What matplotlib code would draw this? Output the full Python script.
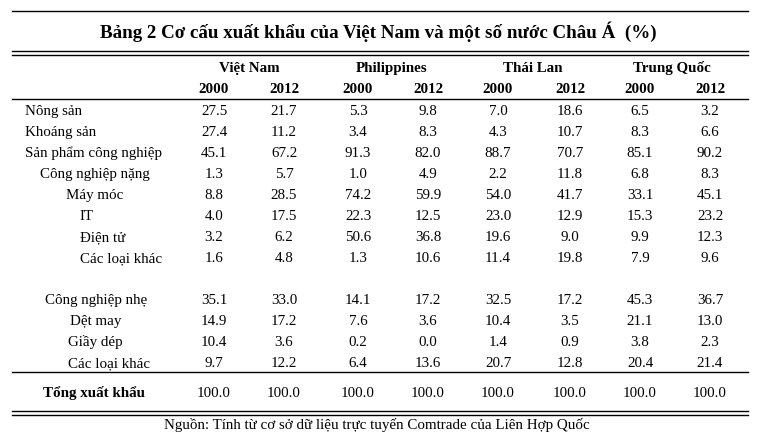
import matplotlib.pyplot as plt

plt.rcParams['font.family'] = ['Liberation Serif', 'DejaVu Serif']

title = "Bảng 2 Cơ cấu xuất khẩu của Việt Nam và một số nước Châu Á  (%)"
countries = ["Việt Nam", "Philippines", "Thái Lan", "Trung Quốc"]
years = ["2000", "2012"]
row_labels = ["Nông sản", "Khoáng sản", "Sản phẩm công nghiệp", "Công nghiệp nặng",
              "Máy móc", "IT", "Điện tử", "Các loại khác", "",
              "Công nghiệp nhẹ", "Dệt may", "Giầy dép", "Các loại khác"]
row_indent = [25, 25, 25, 40, 66, 80, 80, 80, 0, 45, 70, 68, 68]

vietnam = [(27.5, 21.7), (27.4, 11.2), (45.1, 67.2), (1.3, 5.7), (8.8, 28.5), (4.0, 17.5),
           (3.2, 6.2), (1.6, 4.8), None, (35.1, 33.0), (14.9, 17.2), (10.4, 3.6), (9.7, 12.2)]
philippines = [(5.3, 9.8), (3.4, 8.3), (91.3, 82.0), (1.0, 4.9), (74.2, 59.9), (22.3, 12.5),
               (50.6, 36.8), (1.3, 10.6), None, (14.1, 17.2), (7.6, 3.6), (0.2, 0.0), (6.4, 13.6)]
thailand = [(7.0, 18.6), (4.3, 10.7), (88.7, 70.7), (2.2, 11.8), (54.0, 41.7), (23.0, 12.9),
            (19.6, 9.0), (11.4, 19.8), None, (32.5, 17.2), (10.4, 3.5), (1.4, 0.9), (20.7, 12.8)]
china = [(6.5, 3.2), (8.3, 6.6), (85.1, 90.2), (6.8, 8.3), (33.1, 45.1), (15.3, 23.2),
         (9.9, 12.3), (7.9, 9.6), None, (45.3, 36.7), (21.1, 13.0), (3.8, 2.3), (20.4, 21.4)]
total_label = "Tổng xuất khẩu"
totals = [100.0] * 8
source = "Nguồn: Tính từ cơ sở dữ liệu trực tuyến Comtrade của Liên Hợp Quốc"

fig = plt.figure(figsize=(7.59, 4.48), dpi=100)
ax = fig.add_axes([0, 0, 1, 1])
ax.set_xlim(0, 759)
ax.set_ylim(448, 0)
ax.axis('off')

x0, x1 = 12, 748
col_x = [214, 284, 358, 428, 498, 570, 640, 710]
country_x = [249, 392, 533, 672]
fs = 10.8

# lines
for ly in [11, 51, 55, 99, 372, 411, 415]:
    ax.plot([x0, x1], [ly, ly], color='black', lw=1.0)

ax.text(378, 38, title, ha='center', va='baseline', fontsize=13.7, fontweight='bold')

for cx, name in zip(country_x, countries):
    ax.text(cx, 72, name, ha='center', va='baseline', fontsize=fs, fontweight='bold')
for i, cx in enumerate(col_x):
    ax.text(cx, 93, years[i % 2], ha='center', va='baseline', fontsize=fs, fontweight='bold')

row_y0, row_dy = 115, 21
all_data = [vietnam, philippines, thailand, china]
for r, lab in enumerate(row_labels):
    y = row_y0 + r * row_dy
    if not lab:
        continue
    ax.text(row_indent[r], y, lab, ha='left', va='baseline', fontsize=fs)
    for c, series in enumerate(all_data):
        v = series[r]
        for k in range(2):
            ax.text(col_x[2 * c + k], y, f"{v[k]:.1f}", ha='center', va='baseline', fontsize=fs)

ax.text(43, 397, total_label, ha='left', va='baseline', fontsize=fs, fontweight='bold')
for cx, v in zip(col_x, totals):
    ax.text(cx, 397, f"{v:.1f}", ha='center', va='baseline', fontsize=fs)

ax.text(377, 429, source, ha='center', va='baseline', fontsize=fs)

fig.savefig('out.png', dpi=100)
